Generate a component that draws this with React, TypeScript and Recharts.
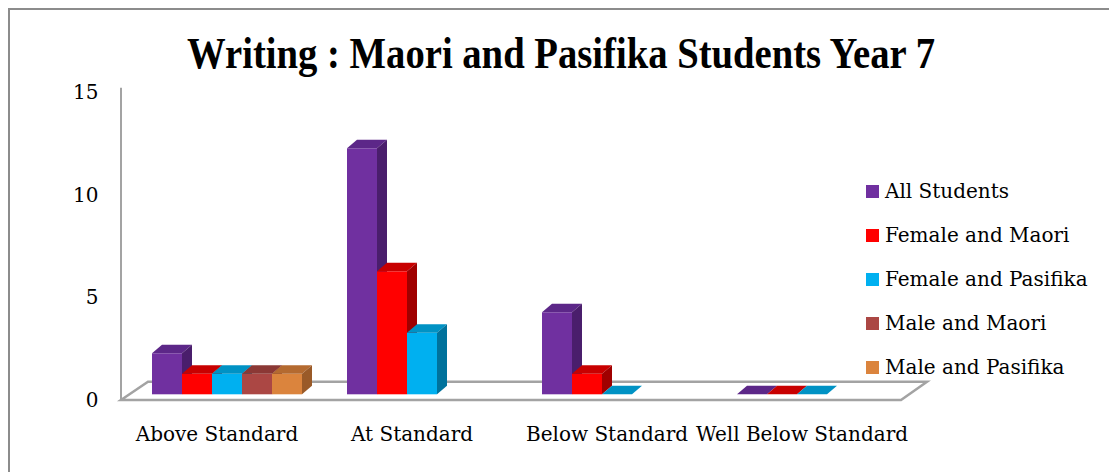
import { BarChart, Bar, XAxis, YAxis, Legend, ReferenceLine } from "recharts";

const categories = ["Above Standard", "At Standard", "Below Standard", "Well Below Standard"];
const allStudents = [2, 12, 4, 0];
const femaleMaori = [1, 6, 1, 0];
const femalePasifika = [1, 3, 0, 0];
const maleMaori = [1, null, null, null];
const malePasifika = [1, null, null, null];
const yTicks = [0, 5, 10, 15];

const series = [
  { key: "all", name: "All Students", values: allStudents, front: "#7030a0", top: "#5c2788", side: "#4a1e6c" },
  { key: "fm", name: "Female and Maori", values: femaleMaori, front: "#ff0000", top: "#c80000", side: "#a00000" },
  { key: "fp", name: "Female and Pasifika", values: femalePasifika, front: "#00b0f0", top: "#0092c4", side: "#00729c" },
  { key: "mm", name: "Male and Maori", values: maleMaori, front: "#ab4744", top: "#8b3835", side: "#7a302e" },
  { key: "mp", name: "Male and Pasifika", values: malePasifika, front: "#db843d", top: "#b46a30", side: "#9a5a28" },
];

const data = categories.map((name, i) => {
  const row: any = { name };
  series.forEach((s) => (row[s.key] = s.values[i]));
  return row;
});

const FONT = '"DejaVu Serif", serif';
const DX = 10;
const DY = 8.5;
const PLOT_TOP = 76.8;

function bar3d(key: string, c: { front: string; top: string; side: string }) {
  return (p: any) => {
    if (p.payload?.[key] == null) return <g />;
    const x = p.x, y = p.y, w = p.width, h = Math.max(p.height || 0, 0);
    return (
      <g>
        <rect x={x} y={y} width={w} height={h} fill={c.front} />
        <polygon points={`${x},${y} ${x + DX},${y - DY} ${x + w + DX},${y - DY} ${x + w},${y}`} fill={c.top} />
        <polygon points={`${x + w},${y} ${x + w + DX},${y - DY} ${x + w + DX},${y + h - DY} ${x + w},${y + h}`} fill={c.side} />
      </g>
    );
  };
}

// floor + vertical axis, hung off the y=0 reference line
const floor = (p: any) => {
  const { x1, x2, y1 } = p;
  const fy = y1 + 5.7;
  const by = y1 - 12.5;
  return (
    <g>
      <polygon
        points={`${x1 - 7.5},${fy} ${x2 - 7.5},${fy} ${x2 + 18.5},${by} ${x1 + 19.5},${by}`}
        fill="#fff"
        stroke="#a3a3a3"
        strokeWidth={2.5}
      />
      <line x1={x1 - 7.5} y1={PLOT_TOP + 1} x2={x1 - 7.5} y2={fy} stroke="#a3a3a3" strokeWidth={2} />
    </g>
  );
};

const YTick = (p: any) => (
  <text x={p.x} y={p.y + 5.5} dy="0.35em" textAnchor="end" fontFamily={FONT} fontSize={20} fill="#000">
    {p.payload.value}
  </text>
);

const XTick = (p: any) => (
  <text x={p.x - 9} y={p.y + 37.7} dy="0.35em" textAnchor="middle" fontFamily={FONT} fontSize={20} fill="#000">
    {p.payload.value}
  </text>
);

const renderLegend = () => (
  <div style={{ fontFamily: FONT, fontSize: 20, color: "#000" }}>
    {series.map((s) => (
      <div key={s.key} style={{ display: "flex", alignItems: "center", height: 44, whiteSpace: "nowrap" }}>
        <span style={{ display: "inline-block", width: 13, height: 13, background: s.front, marginRight: 6 }} />
        <span>{s.name}</span>
      </div>
    ))}
  </div>
);

export default function App() {
  return (
    <div
      style={{
        position: "fixed",
        left: 8,
        top: 8,
        width: 1101,
        height: 464,
        overflow: "hidden",
        boxSizing: "border-box",
        borderLeft: "2px solid #8c8c8c",
        borderTop: "2px solid #8c8c8c",
        background: "#fff",
      }}
    >
      <div style={{ position: "relative", width: 1099, height: 462 }}>
        <BarChart
          width={1099}
          height={462}
          data={data}
          margin={{ top: PLOT_TOP, right: 200.5, bottom: 37.7, left: 58.5 }}
          barCategoryGap={23.5}
          barGap={0}
        >
          <ReferenceLine y={0} shape={floor} zIndex={100} />
          <XAxis dataKey="name" axisLine={false} tickLine={false} tickSize={0} height={40} interval={0} tick={<XTick />} />
          <YAxis
            domain={[0, 15]}
            ticks={yTicks}
            axisLine={false}
            tickLine={false}
            tickSize={0}
            tickMargin={30}
            width={60}
            tick={<YTick />}
          />
          <Legend
            layout="vertical"
            align="center"
            verticalAlign="middle"
            content={renderLegend}
            wrapperStyle={{ left: 856, top: 159, width: 240, height: 220 }}
          />
          {series.map((s) => (
            <Bar
              key={s.key}
              dataKey={s.key}
              name={s.name}
              fill={s.front}
              shape={bar3d(s.key, s)}
              isAnimationActive={false}
            />
          ))}
        </BarChart>
        <svg width={1099} height={90} style={{ position: "absolute", left: 0, top: 0, pointerEvents: "none" }}>
          <text
            x={177}
            y={58}
            textLength={748}
            lengthAdjust="spacingAndGlyphs"
            fontFamily='"Liberation Serif", serif'
            fontWeight="bold"
            fontSize={45}
            fill="#000"
          >
            Writing : Maori and Pasifika Students Year 7
          </text>
        </svg>
      </div>
    </div>
  );
}
